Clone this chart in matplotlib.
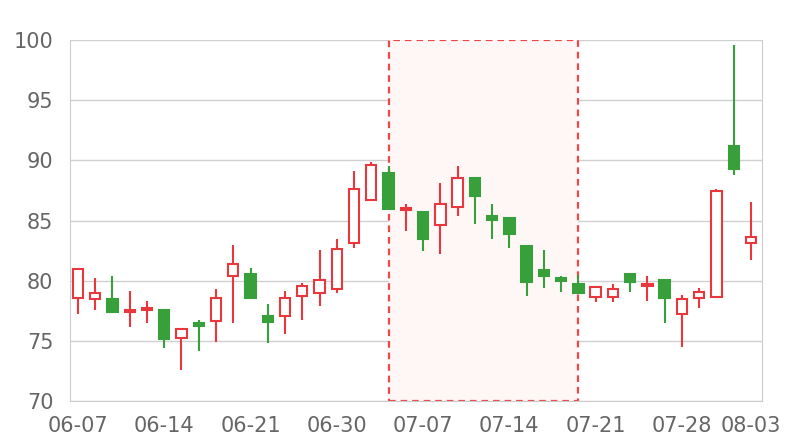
import matplotlib
matplotlib.use('Agg')
import matplotlib.pyplot as plt
from matplotlib.patches import Rectangle
import numpy as np

# trading days (MM-DD)
dates = ['06-07', '06-08', '06-09', '06-10', '06-11',
         '06-14', '06-15', '06-16', '06-17', '06-18',
         '06-21', '06-22', '06-23', '06-24', '06-25',
         '06-30', '07-01', '07-02', '07-05', '07-06',
         '07-07', '07-08', '07-09', '07-12', '07-13',
         '07-14', '07-15', '07-16', '07-19', '07-20',
         '07-21', '07-22', '07-23', '07-26', '07-27',
         '07-28', '07-29', '07-30', '08-02', '08-03']

opens = [78.6, 78.45, 78.5, 77.4, 77.55, 77.6, 75.2, 76.45, 76.65, 80.4,
         80.55, 77.1, 77.1, 78.7, 79.0, 79.3, 83.15, 86.7, 88.95, 85.9,
         85.75, 84.6, 86.15, 88.55, 85.4, 85.25, 82.9, 80.9, 80.2, 79.75,
         78.65, 78.65, 80.55, 79.55, 80.05, 77.2, 78.6, 78.65, 91.2, 83.1]
closes = [81.0, 79.0, 77.4, 77.5, 77.6, 75.15, 76.0, 76.2, 78.6, 81.35,
          78.6, 76.55, 78.6, 79.6, 80.05, 82.6, 87.6, 89.6, 85.95, 86.0,
          83.5, 86.35, 88.55, 87.0, 85.05, 83.85, 79.85, 80.4, 80.0, 79.0,
          79.5, 79.3, 79.85, 79.65, 78.6, 78.45, 79.05, 87.45, 89.3, 83.65]
highs = [81.0, 80.2, 80.4, 79.15, 78.3, 77.6, 76.1, 76.7, 79.3, 82.95,
         81.05, 78.05, 79.15, 79.8, 82.55, 83.45, 89.1, 89.85, 89.55, 86.35,
         85.75, 88.15, 89.55, 88.55, 86.35, 85.25, 82.9, 82.55, 80.4, 80.45,
         79.5, 79.7, 80.6, 80.35, 80.05, 78.85, 79.4, 87.6, 99.6, 86.55]
lows = [77.2, 77.6, 77.4, 76.15, 76.45, 74.4, 72.6, 74.15, 74.9, 76.5,
        78.6, 74.85, 75.55, 76.7, 77.9, 78.95, 82.75, 86.6, 85.9, 84.1,
        82.5, 82.25, 85.35, 84.75, 83.5, 82.7, 78.7, 79.4, 79.1, 79.0,
        78.25, 78.25, 79.05, 78.3, 76.45, 74.5, 77.7, 78.65, 88.8, 81.75]

# highlighted range (index of first and last day)
zone = (18, 29)

up_color = '#e8383d'
down_color = '#37a03a'
text_color = '#666666'

plt.rcParams['font.family'] = ['DejaVu Sans']

fig = plt.figure(figsize=(8, 4.4), dpi=100)
ax = fig.add_axes([0.0875, 0.0886, 0.865, 0.8204])

x = np.arange(len(dates))
o = np.array(opens)
c = np.array(closes)
up = c >= o
colors = np.where(up, up_color, down_color)

# shaded zone
ax.add_patch(Rectangle((zone[0], 70), zone[1] - zone[0], 30, facecolor='#fff6f6',
                       edgecolor='#ee4848', linestyle=(0, (3, 2.2)), linewidth=1.6,
                       zorder=1))

ax.vlines(x, lows, highs, colors=colors, linewidth=1.5, zorder=3)
bottoms = np.minimum(o, c)
heights = np.maximum(np.abs(c - o), 0.18)
face = np.where(up, 'white', down_color)
ax.bar(x, heights, bottom=bottoms, width=0.6, color=face, edgecolor=colors,
       linewidth=1.5, zorder=4)

ax.set_ylim(70, 100)
ax.set_xlim(-0.46, 39.64)
ax.set_yticks(np.arange(70, 101, 5))
tick_idx = list(range(0, 36, 5)) + [39]
ax.set_xticks(tick_idx)
ax.set_xticklabels([dates[i] for i in tick_idx])
ax.yaxis.grid(True, color='#d0d0d0', linewidth=1)
ax.set_axisbelow(True)
ax.tick_params(axis='both', length=0, labelsize=15, colors=text_color)
ax.tick_params(axis='y', pad=12)
ax.tick_params(axis='x', pad=11)
for side in ['left', 'right', 'bottom']:
    ax.spines[side].set_color('#cccccc')
ax.spines['top'].set_visible(False)

fig.savefig('out.png', dpi=100)
